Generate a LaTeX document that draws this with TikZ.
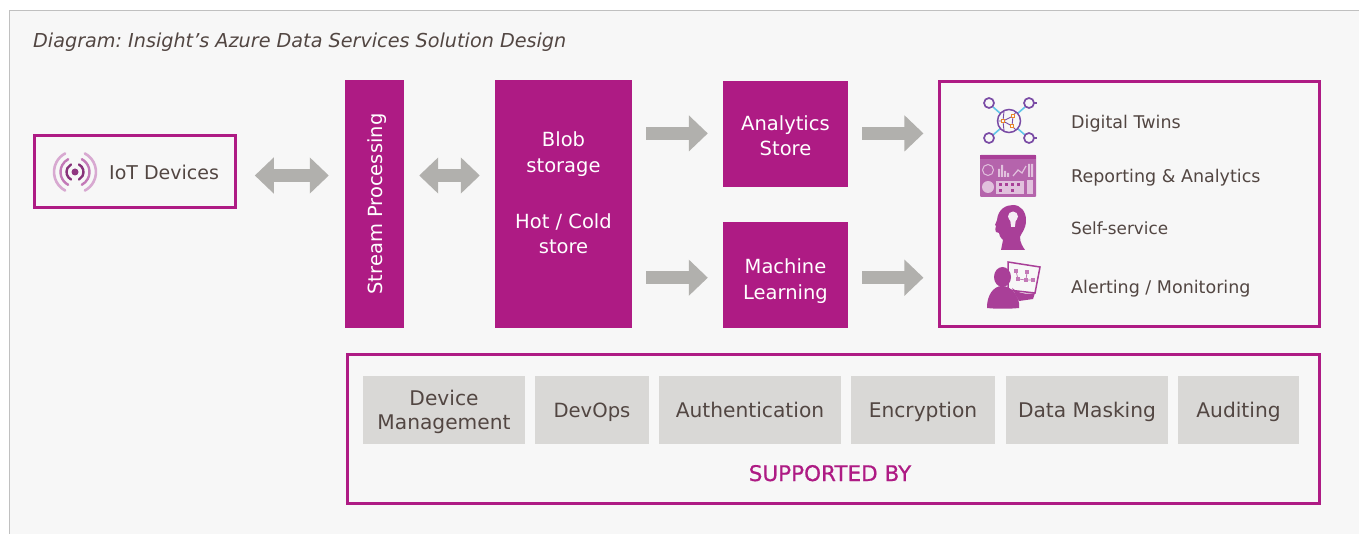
\documentclass[tikz,border=0pt]{standalone}
\usepackage{fontspec}
\setmainfont{DejaVu Sans}
\newfontfamily\supfont[FakeBold=0.7]{DejaVu Sans}
\usetikzlibrary{arrows.meta,calc}
\definecolor{mag}{HTML}{AE1B84}
\definecolor{ink}{HTML}{524642}
\definecolor{arrowgrey}{HTML}{B1B0AD}
\definecolor{chip}{HTML}{D9D8D6}
\definecolor{panel}{HTML}{F7F7F7}
\definecolor{edge}{HTML}{C0C0C0}
\definecolor{twin}{HTML}{7A4BA5}
\definecolor{link}{HTML}{62C6E8}
\definecolor{orng}{HTML}{E8862A}
\definecolor{icon}{HTML}{A93F98}
\definecolor{icontwo}{HTML}{B564AC}
\tikzset{
 solid box/.style={fill=mag,inner sep=0pt},
 white text/.style={text=white,inner sep=0pt,align=center,font=\fontsize{19.5}{25.5}\selectfont},
 frame box/.style={draw=mag,line width=2.6pt,fill=none,inner sep=0pt},
 chipbox/.style={fill=chip,inner sep=0pt,minimum height=68pt},
 chip text/.style={text=ink,inner sep=0pt,align=center,anchor=base,font=\fontsize{20.2}{24}\selectfont},
 label text/.style={text=ink,inner sep=0pt,anchor=base west,font=\fontsize{17.5}{20}\selectfont},
 flow/.style={draw=arrowgrey,line width=13.4pt,-{Triangle[length=19pt,width=35pt,fill=arrowgrey]}},
 flowboth/.style={draw=arrowgrey,line width=13.4pt,{Triangle[length=19pt,width=35pt,fill=arrowgrey]}-{Triangle[length=19pt,width=35pt,fill=arrowgrey]}},
}
\begin{document}
\frenchspacing
\begin{tikzpicture}[x=1pt,y=-1pt]
\useasboundingbox (0,0) rectangle (1359,534);
\fill[white] (0,0) rectangle (1359,534);
\fill[panel] (9,10) rectangle (1359,534);
\draw[edge,line width=1.5pt] (9.5,534) -- (9.5,10.5) -- (1359,10.5);
\node[text=ink,inner sep=0pt,anchor=base west,font=\itshape\fontsize{19.2}{24}\selectfont] (title) at (33,47.5) {Diagram: Insight’s Azure Data Services Solution Design};

\node[frame box,minimum width=201.2pt,minimum height=72pt] (iot) at (134.9,171.25) {};
\node[text=ink,inner sep=0pt,anchor=base west,font=\fontsize{19}{24}\selectfont] (iottext) at (109,179.5) {IoT Devices};
\node[solid box,minimum width=59pt,minimum height=248pt] (stream) at (374.5,204) {};
\node[text=white,inner sep=0pt,rotate=90,anchor=base,font=\fontsize{19.5}{24}\selectfont] (streamtext) at (382,204) {Stream Processing};
\node[solid box,minimum width=137pt,minimum height=248pt] (blob) at (563.5,204) {};
\node[white text] (blobtext) at (563.5,154) {Blob\\storage};
\node[white text] (hottext) at (563.5,233.5) {Hot / Cold\\store};
\node[solid box,minimum width=125pt,minimum height=106pt] (analytics) at (785.5,134) {};
\node[white text] (antext) at (785.5,135.5) {Analytics\\Store};
\node[solid box,minimum width=125pt,minimum height=106pt] (ml) at (785.5,275) {};
\node[white text] (mltext) at (785.5,281) {Machine\\Learning};
\node[frame box,minimum width=379.5pt,minimum height=244.5pt] (out) at (1129.5,204) {};
\node[frame box,minimum width=972pt,minimum height=149pt] (support) at (833.5,429) {};

\node[chipbox,minimum width=162pt] (c1) at (444,410) {};
\node[chipbox,minimum width=114pt] (c2) at (592,410) {};
\node[chipbox,minimum width=182pt] (c3) at (750,410) {};
\node[chipbox,minimum width=144pt] (c4) at (923,410) {};
\node[chipbox,minimum width=162pt] (c5) at (1087,410) {};
\node[chipbox,minimum width=121pt] (c6) at (1238.5,410) {};
\node[text=ink,inner sep=0pt,align=center,font=\fontsize{20.2}{24}\selectfont] (t1) at (444,411.5) {Device\\Management};
\node[chip text,font=\fontsize{19.6}{24}\selectfont] (t2) at (592,417) {DevOps};
\node[chip text] (t3) at (750,417) {Authentication};
\node[chip text] (t4) at (923,417) {Encryption};
\node[chip text] (t5) at (1087,417) {Data Masking};
\node[chip text] (t6) at (1238.5,417) {Auditing};
\node[text=mag,inner sep=0pt,anchor=base,font=\supfont\fontsize{21.5}{24}\selectfont] (suplabel) at (830,481) {SUPPORTED BY};

\draw[flowboth,shorten <=18pt,shorten >=16pt] (iot.east |- 0,175.5) -- (stream.west |- 0,175.5);
\draw[flowboth,shorten <=15pt,shorten >=15pt] (stream.east |- 0,175.5) -- (blob.west |- 0,175.5);
\draw[flow,shorten <=14pt,shorten >=15pt] (blob.east |- 0,133.4) -- (analytics.west |- 0,133.4);
\draw[flow,shorten <=14pt,shorten >=15pt] (blob.east |- 0,277.7) -- (ml.west |- 0,277.7);
\draw[flow,shorten <=14pt,shorten >=15pt] (analytics.east |- 0,133.4) -- (out.west |- 0,133.4);
\draw[flow,shorten <=14pt,shorten >=15pt] (ml.east |- 0,277.7) -- (out.west |- 0,277.7);

\node[label text] (l1) at (1071,128.5) {Digital Twins};
\node[label text] (l2) at (1071,182.5) {Reporting \& Analytics};
\node[label text,font=\fontsize{16.8}{20}\selectfont] (l3) at (1071,234.5) {Self-service};
\node[label text] (l4) at (1071,293.5) {Alerting / Monitoring};

% signal icon
\fill[icon!85!black] (75,172) circle (3.5);
\begin{scope}[line cap=round]
\foreach \r/\c/\w in {8.5/icon!80!black/2.4,14.5/icon!70/2.4,21/icon!45/2.6}{
 \draw[\c,line width=\w pt] (75,172) ++(-62:\r) arc (-62:62:\r);
 \draw[\c,line width=\w pt] (75,172) ++(118:\r) arc (118:242:\r);
}
\end{scope}

% digital twins icon
\draw[link,line width=1.6pt] (993,107) -- (1025,135) (1025,107) -- (993,135);
\foreach \p in {(989,103),(1029,103),(989,138),(1029,138)}{
 \draw[twin,line width=1.7pt,fill=panel] \p circle (5);
}
\draw[twin,line width=1.7pt] (1034,103) -- (1037,103);
\draw[twin,line width=1.7pt] (1034,138) -- (1037,138);
\draw[twin,line width=1.5pt,fill=panel] (1009,121) circle (11.5);
\draw[twin,line width=.9pt] (1003,121) -- (1013,116) -- (1012,126) -- cycle (1013,116) -- (1016,112) (1012,126) -- (1016,130) (1003,121) -- (998,121) (1003,121) -- (1004,111) (1003,121) -- (1004,131);
\foreach \p in {(1003,121),(1013,116),(1012,126)}{\draw[orng,line width=.9pt,fill=panel] \p ++(-1.6,-1.6) rectangle ++(3.2,3.2);}

% reporting icon
\fill[icontwo,rounded corners=1pt] (980,155) rectangle (1036,197);
\fill[icon] (980,155) rectangle (1036,159);
\begin{scope}[white,opacity=.6]
\draw[white,line width=1pt] (988,170) circle (5.5);
\fill (998,177) rectangle (1000,169) (1001,177) rectangle (1003,165) (1004,177) rectangle (1006,171) (1007,177) rectangle (1009,173);
\draw[white,line width=1.2pt] (1013,176) -- (1018,170) -- (1022,173) -- (1026,166);
\fill (1028,177) rectangle (1030,164) (1031,177) rectangle (1033,164);
\fill (988,187) circle (6);
\fill (996,181) rectangle (1024,194);
\fill (1027,180) rectangle (1033,194);
\end{scope}
\foreach \p in {(999,183),(1005,183),(1011,183),(1017,183),(999,189),(1011,189)}{\fill[icon] \p rectangle ++(3,3);}

% head icon
\fill[icon] (1001,250) -- (1003,240) .. controls (1000,237) and (999,235) .. (999,233)
 -- (996,232) .. controls (995,230) and (995,229) .. (996,226) -- (995,225) -- (997,220)
 .. controls (998,209) and (1006,205) .. (1013,205)
 .. controls (1021,205) and (1026,212) .. (1026,220)
 .. controls (1026,230) and (1021,233) .. (1020,237) .. controls (1020,243) and (1023,247) .. (1025,250) -- cycle;
\fill[white!90!icon] (1013,216.5) circle (5);
\fill[white!90!icon] (1010,219) -- (1016,219) -- (1014.8,227) -- (1011.2,227) -- cycle;

% person icon
\fill[panel,draw=icon,line width=1.5pt] (1008,262) -- (1040,267) -- (1035,293) -- (1008,290) -- cycle;
\fill[icon] (1012,288) .. controls (1020,295) and (1030,294) .. (1035,293) -- (1033,299) -- (1019,301) -- cycle;
\foreach \p in {(1016,271),(1027,272),(1018,279),(1026,280),(1033,280)}{\fill[icon!70] \p ++(-1.7,-1.7) rectangle ++(3.4,3.4);}
\draw[icon!70,line width=.8pt] (1016,271) -- (1018,279) (1027,272) -- (1026,280) -- (1033,280) (1018,279) -- (1026,280);
\fill[icon] (1002.5,277) ellipse (8.5 and 10);
\fill[icon] (987,307) .. controls (987,296) and (993,286) .. (1002,286) .. controls (1012,286) and (1018,296) .. (1019,303) -- (1019,308) .. controls (1010,309) and (995,309) .. (987,308) -- cycle;
\end{tikzpicture}
\end{document}
